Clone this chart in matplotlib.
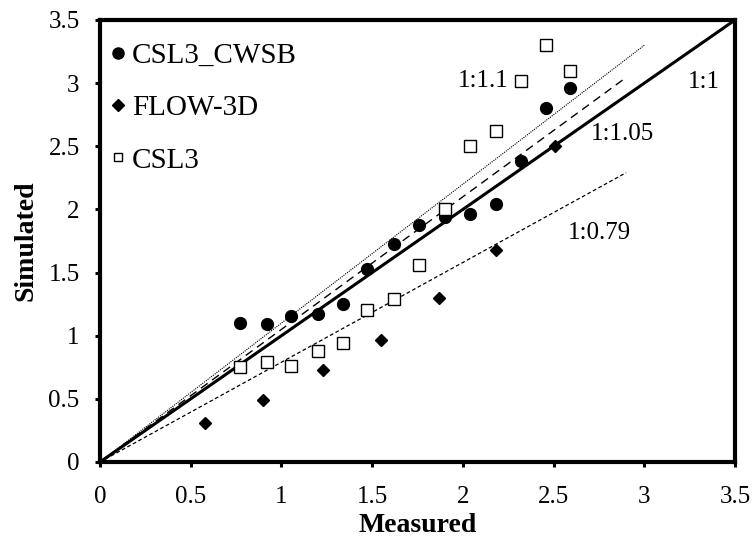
import matplotlib
matplotlib.use("Agg")
import matplotlib.pyplot as plt
import numpy as np

plt.rcParams['font.family'] = ['Liberation Serif', 'DejaVu Serif']

# Data
cwsb_x = [0.77, 0.92, 1.05, 1.20, 1.34, 1.47, 1.62, 1.76, 1.90, 2.04, 2.18, 2.32, 2.46, 2.59]
cwsb_y = [1.10, 1.09, 1.16, 1.17, 1.25, 1.53, 1.73, 1.88, 1.94, 1.96, 2.04, 2.38, 2.80, 2.96]
csl3_x = [0.77, 0.92, 1.05, 1.20, 1.34, 1.47, 1.62, 1.76, 1.90, 2.04, 2.18, 2.32, 2.46, 2.59]
csl3_y = [0.75, 0.79, 0.76, 0.88, 0.94, 1.20, 1.29, 1.56, 2.00, 2.50, 2.62, 3.02, 3.30, 3.10]
flow_x = [0.58, 0.90, 1.23, 1.55, 1.87, 2.18, 2.51]
flow_y = [0.31, 0.49, 0.73, 0.97, 1.30, 1.68, 2.50]

ratios = [1.0, 1.05, 1.1, 0.79]
ratio_xmax = [3.5, 2.89, 3.0, 2.9]
ratio_labels = ["1:1", "1:1.05", "1:1.1", "1:0.79"]
label_pos = [(3.33, 3.01), (2.88, 2.60), (2.11, 3.02), (2.75, 1.81)]

ticks = [0, 0.5, 1, 1.5, 2, 2.5, 3, 3.5]
tick_labels = ["0", "0.5", "1", "1.5", "2", "2.5", "3", "3.5"]

fig = plt.figure(figsize=(7.53, 5.40), dpi=100)
ax = fig.add_axes([100 / 753, 1 - 462 / 540, 635 / 753, 442 / 540])

styles = [dict(color='black', lw=2.2, ls='-'),
          dict(color='black', lw=1.0, ls=(0, (6, 4))),
          dict(color='black', lw=0.8, ls=(0, (1, 1))),
          dict(color='black', lw=0.9, ls=(0, (3, 2)))]
for r, xm, st in zip(ratios, ratio_xmax, styles):
    xs = np.array([0, xm])
    ax.plot(xs, r * xs, **st, zorder=2)

for lab, (lx, ly) in zip(ratio_labels, label_pos):
    ax.text(lx, ly, lab, fontsize=18, ha='center', va='center', zorder=3)

ax.plot(cwsb_x, cwsb_y, 'o', color='black', ms=8.5, ls='none', label='CSL3_CWSB', zorder=4)
ax.plot(flow_x, flow_y, 'D', color='black', ms=6.5, ls='none', label='FLOW-3D', zorder=4)
ax.plot(csl3_x, csl3_y, 's', mfc='white', mec='black', mew=1.0, ms=8, ls='none', label='CSL3', zorder=4)

ax.set_xlim(0, 3.5)
ax.set_ylim(0, 3.5)
ax.set_xticks(ticks)
ax.set_xticklabels(tick_labels)
ax.set_yticks(ticks)
ax.set_yticklabels(tick_labels)
ax.tick_params(axis='both', direction='out', length=3.6, width=2.2, labelsize=18)
ax.tick_params(axis='x', pad=14)
ax.tick_params(axis='y', pad=11)
for s in ax.spines.values():
    s.set_linewidth(3)

ax.set_xlabel("Measured", fontsize=20, fontweight='bold', labelpad=3)
ax.set_ylabel("Simulated", fontsize=20, fontweight='bold', labelpad=7)

leg = ax.legend(loc='upper left', bbox_to_anchor=(0, 1 - 12 / 442), frameon=False, fontsize=21,
                handletextpad=0.24, labelspacing=0.89, borderaxespad=0.2, handlelength=0.5,
                borderpad=0.16)
hs = leg.legend_handles
hs[0].set_markersize(8)
hs[1].set_markersize(6)
hs[2].set_markersize(6)

fig.savefig("out.png", dpi=100)
